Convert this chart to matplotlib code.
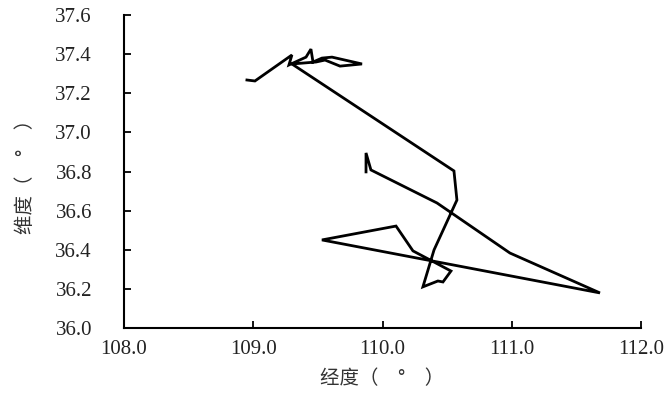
import matplotlib.pyplot as plt

plt.rcParams['font.family'] = ['Liberation Serif', 'Noto Sans CJK SC']

# track points (longitude, latitude) in order
lon = [108.951, 109.013, 109.299, 109.276, 109.408, 109.446, 109.462, 109.531,
       109.609, 109.841, 109.671, 109.555, 109.485, 109.299, 110.552, 110.575,
       110.398, 110.312, 110.428, 110.467, 110.529, 110.235, 110.104, 109.531,
       111.681, 110.985, 110.421, 109.910, 109.872, 109.872]
lat = [37.268, 37.263, 37.396, 37.345, 37.385, 37.426, 37.360, 37.380,
       37.385, 37.350, 37.339, 37.370, 37.360, 37.350, 36.803, 36.654,
       36.399, 36.210, 36.240, 36.235, 36.291, 36.394, 36.521, 36.450,
       36.179, 36.383, 36.639, 36.808, 36.895, 36.798]

xticks = [108.0, 109.0, 110.0, 111.0, 112.0]
yticks = [36.0, 36.2, 36.4, 36.6, 36.8, 37.0, 37.2, 37.4, 37.6]

fig = plt.figure(figsize=(6.7, 3.97), dpi=100)
ax = fig.add_axes([0.185, 0.174, 0.772, 0.788])

ax.plot(lon, lat, color='black', linewidth=2.0, solid_joinstyle='miter')

ax.set_xlim(108, 112)
ax.set_ylim(36, 37.6)
ax.set_xticks(xticks)
ax.set_yticks(yticks)
ax.set_xticklabels(['%.1f' % v for v in xticks])
ax.set_yticklabels(['%.1f' % v for v in yticks])
ax.tick_params(direction='in', length=5, width=1.3, labelsize=15,
               labelcolor='#222222')
ax.tick_params(axis='x', pad=9)
ax.tick_params(axis='y', pad=23)

for side in ['top', 'right']:
    ax.spines[side].set_visible(False)
for side in ['left', 'bottom']:
    ax.spines[side].set_linewidth(1.5)

lab_font = ['Noto Sans CJK SC', 'DejaVu Sans']
ax.set_xlabel('经度（\u3000°\u3000）', fontsize=14, color='#333333', labelpad=6,
              family=lab_font, fontweight='light')
ax.set_ylabel('维度（\u3000°\u3000）', fontsize=14, color='#333333', labelpad=14,
              family=lab_font, fontweight='light')

fig.savefig('out.png', dpi=100)
